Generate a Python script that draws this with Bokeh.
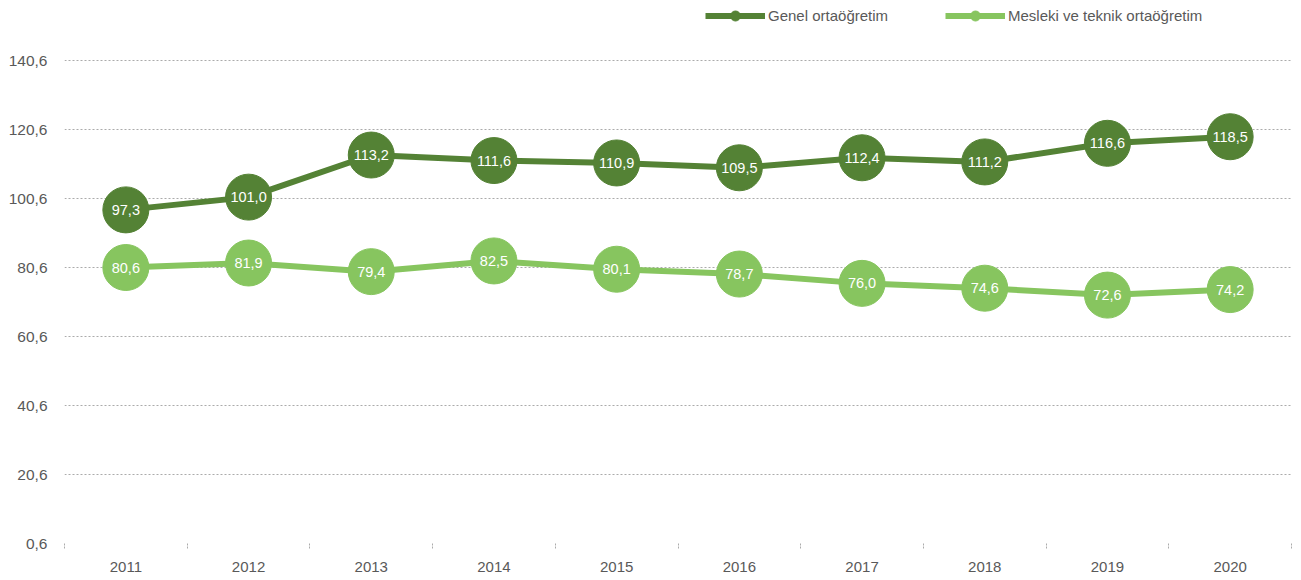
from bokeh.plotting import figure
from bokeh.models import ColumnDataSource, FixedTicker, CustomJSTickFormatter, Legend, LegendItem, Range1d
from bokeh.core.properties import value
from bokeh.embed import file_html
from bokeh.resources import INLINE

years = ["2011", "2012", "2013", "2014", "2015", "2016", "2017", "2018", "2019", "2020"]
genel = [97.3, 101.0, 113.2, 111.6, 110.9, 109.5, 112.4, 111.2, 116.6, 118.5]
mesleki = [80.6, 81.9, 79.4, 82.5, 80.1, 78.7, 76.0, 74.6, 72.6, 74.2]
y_ticks = [0.6, 20.6, 40.6, 60.6, 80.6, 100.6, 120.6, 140.6]
series_names = ["Genel ortaöğretim", "Mesleki ve teknik ortaöğretim"]

DARK = "#548235"
LIGHT = "#87C55F"
GRAY = "#595959"
GRID = "#ababab"
FONT = "Liberation Sans"

xs = list(range(len(years)))

def fmt(v):
    return f"{v:.1f}".replace(".", ",")

src_g = ColumnDataSource(dict(x=xs, y=genel, lbl=[fmt(v) for v in genel]))
src_m = ColumnDataSource(dict(x=xs, y=mesleki, lbl=[fmt(v) for v in mesleki]))

# frame spans from top of canvas to the 0,6 line; headroom above 140,6 holds the legend
FRAME_H = 543
PX_PER_UNIT = 483 / (y_ticks[-1] - y_ticks[0])
y_top = y_ticks[0] + FRAME_H / PX_PER_UNIT

p = figure(width=1296, height=576, output_backend="svg", toolbar_location=None,
           x_range=Range1d(-0.5, len(years) - 0.5), y_range=Range1d(y_ticks[0], y_top),
           min_border_left=64, min_border_right=5, min_border_top=0, min_border_bottom=33)
p.outline_line_color = None
p.background_fill_color = "white"

# grid
p.xgrid.grid_line_color = None
p.ygrid.ticker = FixedTicker(ticks=y_ticks)
p.ygrid.grid_line_color = GRID
p.ygrid.grid_line_dash = "2 2"
p.ygrid.grid_line_width = 1

# y axis
p.yaxis.ticker = FixedTicker(ticks=y_ticks)
p.yaxis.formatter = CustomJSTickFormatter(code="return tick.toFixed(1).replace('.', ',');")
p.yaxis.axis_line_color = None
p.yaxis.major_tick_line_color = None
p.yaxis.minor_tick_line_color = None
p.yaxis.major_tick_out = 0
p.yaxis.major_label_standoff = 17
p.yaxis.major_label_text_font = FONT
p.yaxis.major_label_text_font_size = "15.5px"
p.yaxis.major_label_text_color = GRAY

# x axis
p.xaxis.ticker = FixedTicker(ticks=xs, minor_ticks=[i - 0.5 for i in range(len(years) + 1)])
p.xaxis.major_label_overrides = {i: y for i, y in enumerate(years)}
p.xaxis.axis_line_color = None
p.xaxis.major_tick_line_color = None
p.xaxis.major_tick_out = 0
p.xaxis.major_tick_in = 0
p.xaxis.minor_tick_line_color = GRID
p.xaxis.minor_tick_line_dash = "2 1"
p.xaxis.minor_tick_out = 5
p.xaxis.minor_tick_in = 0
p.xaxis.major_label_standoff = 13
p.xaxis.major_label_text_font = FONT
p.xaxis.major_label_text_font_size = "15px"
p.xaxis.major_label_text_color = GRAY

items = []
for src, col, name in [(src_g, DARK, series_names[0]), (src_m, LIGHT, series_names[1])]:
    lr = p.line("x", "y", source=src, line_color=col, line_width=6)
    sr = p.scatter("x", "y", source=src, size=46, fill_color=col, line_color=col)
    p.text("x", "y", text="lbl", source=src, text_color="white", text_align="center",
           text_baseline="middle", text_font=value(FONT), text_font_size="14.5px")
    items.append(LegendItem(label=name, renderers=[lr, sr]))

for item, loc in zip(items, [(641, 515), (881, 515)]):
    lg = Legend(items=[item], location=loc, orientation="horizontal",
                glyph_width=60, glyph_height=25, label_height=25, padding=0, margin=0,
                spacing=0, border_line_color=None, background_fill_alpha=0,
                label_text_font=FONT, label_text_font_size="15px",
                label_text_color=GRAY, label_standoff=3)
    p.add_layout(lg, "center")

open("out.html", "w").write(file_html(p, INLINE))
